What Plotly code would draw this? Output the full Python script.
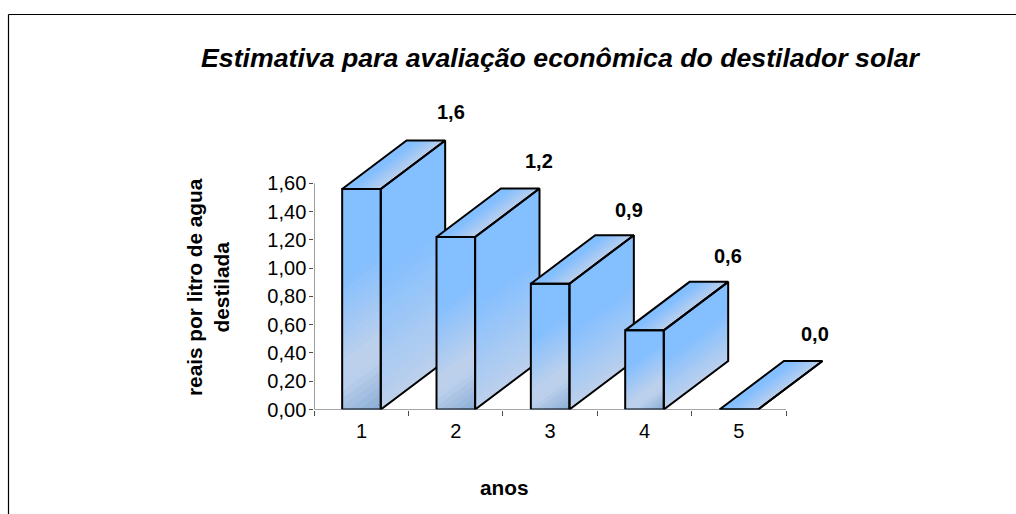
import plotly.graph_objects as go

# Chart content
years = [1, 2, 3, 4, 5]
cost_per_litre = [1.56, 1.22, 0.89, 0.56, 0.0]
y_tick_values = [0.0, 0.2, 0.4, 0.6, 0.8, 1.0, 1.2, 1.4, 1.6]
title_text = "Estimativa para avaliação econômica do destilador solar"
y_title_text = "reais por litro de agua<br>destilada"
x_title_text = "anos"

# Page and plot-area geometry in pixels
PAGE_W, PAGE_H = 1016, 514
PLOT_L, PLOT_B = 314.3, 409.5
PX_X = (786.0 - PLOT_L) / 5.0
PX_Y = (PLOT_B - 183.3) / 1.6

# Value-axis extents; the axes run further up and right to leave room for the box depth
X_MIN, X_END = 0.5, 5.5
Y_MIN, Y_END = 0.0, 1.6
PLOT_R, PLOT_T = 900.0, 90.0
X_MAX = X_MIN + (PLOT_R - PLOT_L) / PX_X
Y_MAX = Y_MIN + (PLOT_B - PLOT_T) / PX_Y

# Box proportions in axis units
BAR_WIDTH = 38.6 / PX_X
DEPTH_X = 64.4 / PX_X
DEPTH_Y = 48.5 / PX_Y

# Label nudges in pixels, one per bar
LABEL_XSHIFT = [25, 19, 14, 19, 12]
LABEL_YSHIFT = [28, 28, 25, 26, 27]

# Diagonal shading: direction of the gradient in pixel space and its colour stops
GRAD_DIR = (0.59, 0.81)
BLUE = (132, 191, 255)
PALE = (188, 208, 236)
DEEP = (141, 175, 214)
FRONT_STOPS = [(0.0, BLUE), (0.36, BLUE), (0.72, PALE), (0.80, PALE), (1.0, DEEP)]
SIDE_STOPS = [(0.0, BLUE), (0.38, BLUE), (1.0, PALE)]
TOP_STOPS = [(0.0, BLUE), (0.25, BLUE), (1.0, PALE)]
N_LEVELS = 32


def project(pt):
    return GRAD_DIR[0] * pt[0] * PX_X - GRAD_DIR[1] * pt[1] * PX_Y


def clip_above(poly, level):
    """Keep the part of a polygon whose projection is at or past the level."""
    kept = []
    for i, a in enumerate(poly):
        b = poly[(i + 1) % len(poly)]
        pa, pb = project(a) - level, project(b) - level
        if pa >= 0:
            kept.append(a)
        if (pa >= 0) != (pb >= 0):
            t = pa / (pa - pb)
            kept.append((a[0] + t * (b[0] - a[0]), a[1] + t * (b[1] - a[1])))
    return kept


def stop_colour(stops, t):
    for (t0, c0), (t1, c1) in zip(stops, stops[1:]):
        if t <= t1:
            f = 0 if t1 == t0 else (t - t0) / (t1 - t0)
            rgb = [round(u + f * (v - u)) for u, v in zip(c0, c1)]
            return "rgb(%d,%d,%d)" % tuple(rgb)
    return "rgb(%d,%d,%d)" % stops[-1][1]


def add_face(fig, poly, stops):
    """Paint one face as stacked, progressively clipped fills."""
    values = [project(p) for p in poly]
    low, high = min(values), max(values)
    if high - low < 1e-6:
        return
    for k in range(N_LEVELS):
        t = k / (N_LEVELS - 1)
        part = clip_above(poly, low + (k / N_LEVELS) * (high - low))
        if len(part) < 3:
            continue
        fig.add_trace(go.Scatter(
            x=[p[0] for p in part] + [part[0][0]],
            y=[p[1] for p in part] + [part[0][1]],
            mode="none", fill="toself", fillcolor=stop_colour(stops, t),
            hoverinfo="skip", showlegend=False,
        ))


def add_box(fig, year, value):
    x0, x1 = year - BAR_WIDTH / 2, year + BAR_WIDTH / 2
    front = [(x0, 0), (x1, 0), (x1, value), (x0, value)]
    side = [(x1, 0), (x1 + DEPTH_X, DEPTH_Y),
            (x1 + DEPTH_X, value + DEPTH_Y), (x1, value)]
    top = [(x0, value), (x1, value),
           (x1 + DEPTH_X, value + DEPTH_Y), (x0 + DEPTH_X, value + DEPTH_Y)]
    add_face(fig, side, SIDE_STOPS)
    add_face(fig, top, TOP_STOPS)
    add_face(fig, front, FRONT_STOPS)
    xs, ys = [], []
    for poly in (side, top, front):
        xs += [p[0] for p in poly] + [poly[0][0], None]
        ys += [p[1] for p in poly] + [poly[0][1], None]
    fig.add_trace(go.Scatter(
        x=xs, y=ys, mode="lines", line=dict(color="#000000", width=2),
        hoverinfo="skip", showlegend=False, cliponaxis=False,
    ))


fig = go.Figure()
for year, value in zip(years, cost_per_litre):
    add_box(fig, year, value)

FONT = "Liberation Sans, Arial, sans-serif"
annotations = []
for year, value, dx, dy in zip(years, cost_per_litre, LABEL_XSHIFT, LABEL_YSHIFT):
    annotations.append(dict(
        x=year + DEPTH_X,
        y=value + DEPTH_Y,
        xref="x", yref="y", xshift=dx, yshift=dy, showarrow=False,
        xanchor="center", yanchor="middle",
        text="<b>%s</b>" % f"{value:.1f}".replace(".", ","),
        font=dict(family=FONT, size=20, color="#000000"),
    ))
annotations.append(dict(
    x=560.5 / PAGE_W, y=1 - 58 / PAGE_H, xref="paper", yref="paper", showarrow=False,
    xanchor="center", yanchor="middle",
    text="<b><i>%s</i></b>" % title_text,
    font=dict(family=FONT, size=26.7, color="#000000"),
))
annotations.append(dict(
    x=208 / PAGE_W, y=1 - 287 / PAGE_H, xref="paper", yref="paper", showarrow=False,
    xanchor="center", yanchor="middle",
    text="<b>%s</b>" % y_title_text, textangle=-90, align="center",
    font=dict(family=FONT, size=20.8, color="#000000"),
))
annotations.append(dict(
    x=504.5 / PAGE_W, y=1 - 487 / PAGE_H, xref="paper", yref="paper", showarrow=False,
    xanchor="center", yanchor="middle",
    text="<b>%s</b>" % x_title_text,
    font=dict(family=FONT, size=20.8, color="#000000"),
))

AXIS_COLOUR = "#4d4d4d"
shapes = [
    # Outer frame: only the top and left edges are visible on the page
    dict(type="line", xref="paper", yref="paper",
         x0=8.5 / PAGE_W, x1=1, y0=1 - 14.5 / PAGE_H, y1=1 - 14.5 / PAGE_H,
         line=dict(color="#000000", width=1.2)),
    dict(type="line", xref="paper", yref="paper",
         x0=8.5 / PAGE_W, x1=8.5 / PAGE_W, y0=1 - 14.5 / PAGE_H, y1=0,
         line=dict(color="#000000", width=1.2)),
    # Axis spines stop at the last tick
    dict(type="line", xref="x", yref="y", layer="below",
         x0=X_MIN, x1=X_END, y0=Y_MIN, y1=Y_MIN,
         line=dict(color=AXIS_COLOUR, width=1)),
    dict(type="line", xref="x", yref="y", layer="below",
         x0=X_MIN, x1=X_MIN, y0=Y_MIN, y1=Y_END,
         line=dict(color=AXIS_COLOUR, width=1)),
]

fig.update_layout(
    width=PAGE_W, height=PAGE_H,
    margin=dict(l=0, r=0, t=0, b=0, autoexpand=False),
    paper_bgcolor="#ffffff", plot_bgcolor="#ffffff",
    showlegend=False,
    annotations=annotations,
    shapes=shapes,
    font=dict(family=FONT, size=20, color="#000000"),
    xaxis=dict(
        domain=[PLOT_L / PAGE_W, PLOT_R / PAGE_W],
        range=[X_MIN, X_MAX], tickmode="array",
        tickvals=years, ticktext=[str(y) for y in years],
        ticks="", showgrid=False, zeroline=False, showline=False,
        ticklabelstandoff=7,
        tickfont=dict(size=20),
        minor=dict(tickmode="array",
                   tickvals=[y - 0.5 for y in years] + [years[-1] + 0.5],
                   ticks="outside", ticklen=5, tickwidth=1, tickcolor=AXIS_COLOUR,
                   showgrid=False),
    ),
    yaxis=dict(
        domain=[1 - PLOT_B / PAGE_H, 1 - PLOT_T / PAGE_H],
        range=[Y_MIN, Y_MAX], tickmode="array",
        tickvals=y_tick_values,
        ticktext=[f"{v:.2f}".replace(".", ",") for v in y_tick_values],
        ticks="outside", ticklen=4, tickwidth=1, tickcolor=AXIS_COLOUR,
        showgrid=False, zeroline=False, showline=False,
        ticklabelstandoff=-1,
        tickfont=dict(size=20),
    ),
)

fig.write_html("out.html", config=dict(displayModeBar=False))
